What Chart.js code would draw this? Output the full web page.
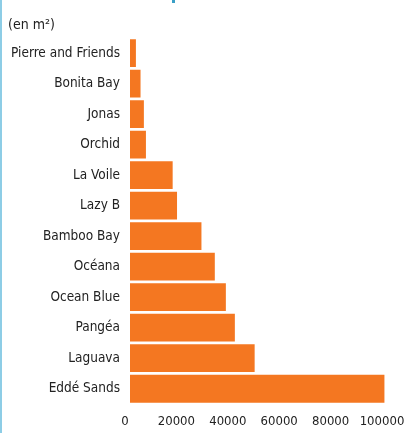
<!DOCTYPE html>
<html>
<head>
<meta charset="utf-8">
<script src="https://cdn.jsdelivr.net/npm/chart.js@4"></script>
<style>
  html, body { margin: 0; padding: 0; background: #fff; }
  #wrap { position: relative; width: 407px; height: 433px; }
  #leftLine { position: absolute; left: 0; top: 0; width: 2px; height: 433px; background: #8dcde6; }
  #topMark { position: absolute; left: 172px; top: 0; width: 3px; height: 3px; background: #3a9fc6; }
  canvas { position: absolute; left: 0; top: 0; }
</style>
</head>
<body>
<div id="wrap">
  <canvas id="chart" width="407" height="433"></canvas>
  <div id="leftLine"></div>
  <div id="topMark"></div>
</div>
<script>
// Données (surfaces en m²)
const projects = ['Pierre and Friends', 'Bonita Bay', 'Jonas', 'Orchid', 'La Voile', 'Lazy B',
  'Bamboo Bay', 'Océana', 'Ocean Blue', 'Pangéa', 'Laguava', 'Eddé Sands'];
const surfaces = [2300, 4100, 5400, 6200, 16600, 18300, 27800, 33000, 37300, 40800, 48500, 99000];
const xTicks = [0, 20000, 40000, 60000, 80000, 100000];
const unitLabel = '(en m²)';

const fontFamily = "'Liberation Sans Narrow', 'DejaVu Sans Condensed', 'Roboto', sans-serif";

new Chart(document.getElementById('chart'), {
  type: 'bar',
  data: {
    labels: projects,
    datasets: [{
      data: surfaces,
      backgroundColor: '#f47721',
      borderWidth: 0,
      categoryPercentage: 1,
      barPercentage: 0.91
    }]
  },
  options: {
    indexAxis: 'y',
    responsive: false,
    animation: false,
    layout: { padding: { left: 8, right: 20, top: 17, bottom: 3 } },
    plugins: {
      legend: { display: false },
      tooltip: { enabled: false },
      title: {
        display: true,
        text: unitLabel,
        align: 'start',
        color: '#222',
        font: { family: fontFamily, size: 14, weight: 'normal' },
        padding: { top: 0, bottom: 4 }
      }
    },
    scales: {
      x: {
        min: 0,
        max: 100000,
        grid: { display: false },
        border: { display: false },
        afterFit: axis => { axis.height = 26; axis.paddingLeft = 0; axis.paddingRight = 0; },
        afterBuildTicks: axis => { axis.ticks = xTicks.map(v => ({ value: v })); },
        ticks: {
          autoSkip: false,
          maxRotation: 0,
          color: '#222',
          font: { family: fontFamily, size: 13 },
          padding: 2,
          labelOffset: -5,
          callback: v => String(v)
        }
      },
      y: {
        grid: { display: false },
        border: { display: false },
        afterFit: axis => { axis.width = 122; },
        ticks: { color: '#222', font: { family: fontFamily, size: 13.5 }, padding: 2 }
      }
    }
  }
});
</script>
</body>
</html>
